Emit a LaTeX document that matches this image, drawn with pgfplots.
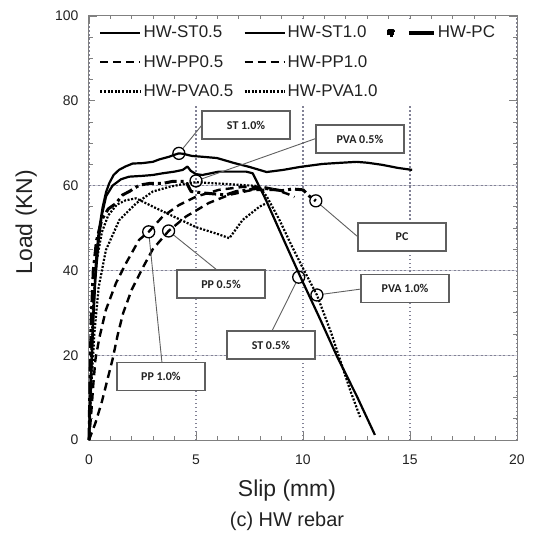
\documentclass[border=0pt]{standalone}
\usepackage{fontspec}
\setmainfont{Liberation Sans}
\newfontfamily\callfont{Carlito}
\usepackage{pgfplots}
\pgfplotsset{compat=1.18}

\definecolor{axgray}{RGB}{128,128,128}
\definecolor{txt}{RGB}{34,34,34}
\definecolor{boxgray}{RGB}{95,95,95}
\definecolor{gridc}{RGB}{130,130,150}
\definecolor{gridlight}{RGB}{205,205,215}

\tikzset{
  callout/.style={draw=boxgray, line width=1.3bp, fill=white, minimum width=88bp,
    minimum height=28bp, inner sep=0pt, text=txt,
    font=\callfont\bfseries\fontsize{12}{14}\selectfont},
  leader/.style={boxgray, line width=0.9bp, shorten <=6bp},
  gridline/.style={gridc, line width=1.5bp, dash pattern=on 1.5bp off 2.5bp},
}

\begin{document}
\begin{tikzpicture}
\useasboundingbox (-89bp,-93bp) rectangle (454bp,440bp);
\begin{axis}[
  name=ax, at={(0,0)}, anchor=south west,
  scale only axis, width=428bp, height=424bp,
  xmin=0, xmax=20, ymin=0, ymax=100,
  xtick={0,5,...,20}, ytick={0,20,...,100},
  minor x tick num=4, minor y tick num=3,
  xmajorgrids=true,
  major grid style={gridline},
  tick align=inside, major tick length=8bp, minor tick length=4bp,
  axis line style={axgray, line width=1bp},
  every tick/.style={axgray, line width=0.8bp},
  tick label style={font=\fontsize{14}{16}\selectfont, text=txt},
  /pgf/number format/assume math mode=true,
  xticklabel style={yshift=-11bp},
  yticklabel style={xshift=-7bp},
  xlabel={Slip (mm)}, ylabel={Load (KN)},
  xlabel style={at={(axis description cs:0.4626,-0.1344)}, anchor=base,
    font=\fontsize{23}{26}\selectfont, text=txt, inner sep=0pt},
  ylabel style={at={(axis description cs:-0.1215,0.514)}, anchor=south,
    font=\fontsize{23}{26}\selectfont, text=txt, inner sep=0pt},
  clip=false,
  legend columns=3,
  legend cell align=left,
  legend style={at={(rel axis cs:0.014,0.993)}, anchor=north west, draw=none,
    fill=white, font=\fontsize{17}{19}\selectfont, text=txt,
    row sep=12bp, inner xsep=4bp, inner ysep=5bp,
    /tikz/every even column/.append style={column sep=8bp}},
  legend image code/.code={\draw[#1] (0bp,0bp) -- (40bp,0bp);},
  every axis plot/.append style={line join=round},
]
% horizontal grid lines at 20, 40, 60
\addplot[forget plot, gridlight, line width=0.9bp] coordinates {(0,20) (20,20)};
\addplot[forget plot, gridlight, line width=0.9bp] coordinates {(0,40) (20,40)};
\addplot[forget plot, gridlight, line width=0.9bp] coordinates {(0,60) (20,60)};
\addplot[forget plot, gridc, line width=1.4bp, dash pattern=on 2bp off 2.5bp]
  coordinates {(0,20) (20,20)};
\addplot[forget plot, gridc, line width=1.4bp, dash pattern=on 2bp off 2.5bp]
  coordinates {(0,40) (20,40)};
\addplot[forget plot, gridc, line width=1.4bp, dash pattern=on 2bp off 2.5bp]
  coordinates {(0,60) (20,60)};
% HW-ST0.5
\addplot[black, line width=2.2bp] coordinates {
  (0,0) (0.1,15) (0.2,28) (0.3,38) (0.45,47) (0.6,53) (0.8,57.5) (1.1,60)
  (1.5,61.5) (1.87,62.1) (2.5,62.3) (2.98,62.5) (3.44,62.9) (4.0,63.3) (4.38,63.7)
  (4.6,64.5) (4.75,63.5) (5.0,62.7) (5.3,62.5) (6.07,63.3) (7.34,63.3) (7.65,62.9)
  (8.27,56.6) (9.1,47.2) (9.95,37.7) (10.8,28.5) (11.6,19.6) (12.5,10.5) (13.36,1.2)
};
\addlegendentry{HW-ST0.5}
% HW-ST1.0
\addplot[black, line width=2.2bp] coordinates {
  (0,0) (0.1,15) (0.2,30) (0.33,42.5) (0.45,49) (0.64,55) (0.8,58.5) (0.95,60.6)
  (1.15,62.5) (1.4,63.7) (1.7,64.5) (2.04,65.2) (2.5,65.3) (2.98,65.6) (3.3,66.2)
  (3.74,66.8) (3.95,67.2) (4.2,67.6) (4.4,67.5) (4.8,67) (5.3,66.8) (5.98,66.5)
  (6.8,65.3) (7.5,64.4) (8.3,63.2) (9.07,63.7) (9.86,64.4) (10.9,65.1) (11.5,65.3)
  (12.5,65.6) (13.0,65.4) (13.7,64.9) (14.4,64.2) (15.1,63.7)
};
\addlegendentry{HW-ST1.0}
% HW-PC
\addplot[black, line width=3bp, dash pattern=on 12bp off 4bp on 3bp off 4bp,
  legend image code/.code={\fill (0bp,-2.5bp) rectangle (5bp,2.5bp);
    \draw[solid, line width=4bp] (20bp,0bp) -- (45bp,0bp);}] coordinates {
  (0,0) (0.05,15) (0.1,28) (0.2,40) (0.35,47) (0.6,52) (0.9,54.5) (1.26,55.8)
  (1.57,57.8) (1.88,58.6) (2.35,60.1) (2.82,60.5) (3.44,60.5) (3.91,61) (4.53,61)
  (4.77,58.6) (5.47,58.2) (6.4,57.8) (6.87,58.6) (7.94,59.4) (8.5,59.2) (9.0,58.8)
  (9.5,59.2) (10.0,59) (10.3,57.5) (10.6,56.4)
};
\addlegendentry{HW-PC}
% HW-PP0.5
\addplot[black, line width=2.4bp, dash pattern=on 8bp off 5bp] coordinates {
  (0,0) (0.3,4) (0.6,9) (0.9,15) (1.1,19) (1.35,25) (1.6,30) (2.0,35.5)
  (2.5,40.5) (2.98,45) (3.72,49.3) (4.53,52.7) (5.6,55.9) (6.54,57.8) (7.65,59)
  (8.74,59) (9.3,58) (9.6,57.3)
};
\addlegendentry{HW-PP0.5}
% HW-PP1.0
\addplot[black, line width=2.4bp, dash pattern=on 8bp off 5bp] coordinates {
  (0,0) (0.1,6) (0.2,13) (0.3,19) (0.48,24) (0.79,30.7) (1.26,37) (1.73,41.7)
  (2.34,47.2) (2.79,49.1) (3.44,52.7) (4.2,55.4) (5.0,57.4) (6.07,59) (7.2,59.7)
  (8.1,59.7) (8.6,59.2)
};
\addlegendentry{HW-PP1.0}
\addlegendimage{empty legend}
\addlegendentry{}
% HW-PVA0.5
\addplot[black, line width=2.2bp, dash pattern=on 2bp off 1.6bp] coordinates {
  (0,0) (0.1,20) (0.2,32) (0.35,42) (0.6,49) (0.9,53) (1.3,55.5) (1.7,56.5)
  (2.2,57) (3,55) (4,52.6) (5,50.2) (6,48.6) (6.56,47.6) (7.18,51.9) (7.96,55)
  (8.27,55.8)
};
\addlegendentry{HW-PVA0.5}
% HW-PVA1.0
\addplot[black, line width=2.2bp, dash pattern=on 2bp off 1.6bp] coordinates {
  (0,0) (0.1,12) (0.25,25) (0.45,36) (0.79,44.8) (1.42,51.9) (2.2,55.8) (2.98,58.6)
  (3.75,59.7) (4.53,60.5) (5.0,60.8) (6,60.5) (7,60.2) (7.9,59.9) (8.3,57.5)
  (8.9,51.9) (9.5,45.5) (10.1,39.5) (10.65,34.2) (11.3,25.5) (12.2,11.8) (12.67,5.4)
};
\addlegendentry{HW-PVA1.0}
% marked points
\addplot[forget plot, black, only marks, mark=o, mark size=6bp, line width=1.3bp]
  coordinates {(4.2,67.6) (5.0,61.1) (10.6,56.4) (10.65,34.2) (9.8,38.4)
    (3.72,49.3) (2.79,49.1)};

\draw[leader] (axis cs:4.2,67.6) -- (axis cs:5.28,74.3);
\draw[leader] (axis cs:5.0,61.1) -- (axis cs:10.65,71.2);
\draw[leader] (axis cs:10.6,56.4) -- (axis cs:12.52,48.1);
\draw[leader] (axis cs:10.65,34.2) -- (axis cs:12.71,35.6);
\draw[leader] (axis cs:9.8,38.4) -- (axis cs:8.55,25.7);
\draw[leader] (axis cs:3.72,49.3) -- (axis cs:5.98,40.1);
\draw[leader] (axis cs:2.79,49.1) -- (axis cs:3.41,18.2);

\node[callout] at (axis cs:7.34,74.3) {ST 1.0\%};
\node[callout] at (axis cs:12.66,71.0) {PVA 0.5\%};
\node[callout] at (axis cs:14.63,47.9) {PC};
\node[callout] at (axis cs:14.77,35.8) {PVA 1.0\%};
\node[callout] at (axis cs:8.5,22.4) {ST 0.5\%};
\node[callout] at (axis cs:6.17,36.8) {PP 0.5\%};
\node[callout] at (axis cs:3.36,14.9) {PP 1.0\%};
\end{axis}
\node[anchor=base, text=txt, font=\fontsize{20}{24}\selectfont]
  at (198bp,-86bp) {(c) HW rebar};
\end{tikzpicture}
\end{document}
